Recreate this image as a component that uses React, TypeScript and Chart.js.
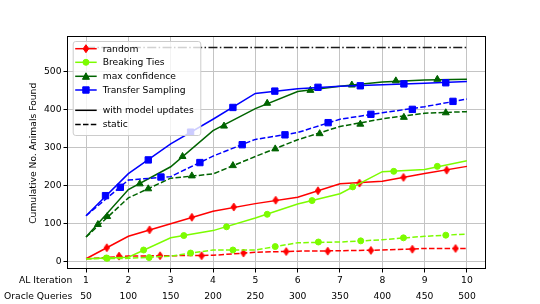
import React, { useEffect, useRef } from "react";
import { Chart, registerables } from "chart.js";

Chart.register(...registerables);

// ---------- data ----------
const iterations = [1, 2, 3, 4, 5, 6, 7, 8, 9, 10];
const queries = [50, 100, 150, 200, 250, 300, 350, 400, 450, 500];
const yTicks = [0, 100, 200, 300, 400, 500];
const totalAnimals = 564;

const randomModel = [8, 67, 100, 133, 153, 170, 205, 212, 232, 251];
const randomStatic = [8, 15, 16, 17, 25, 28, 29, 31, 35, 35];
const tiesModel = [8, 12, 63, 82, 115, 152, 179, 237, 243, 266];
const tiesStatic = [8, 9, 15, 31, 31, 50, 52, 58, 67, 73];
const maxConfModel = [65, 190, 250, 345, 403, 448, 462, 473, 478, 480];
const maxConfStatic = [65, 168, 220, 231, 277, 321, 356, 376, 391, 395];
const transferModel = [121, 232, 310, 375, 443, 455, 462, 466, 470, 474];
const transferStatic = [121, 215, 224, 278, 322, 340, 375, 392, 408, 428];

// marker positions (iteration) and values
const randomModelMkX = [1.49, 2.5, 3.5, 4.49, 5.48, 6.48, 7.46, 8.5, 9.52];
const randomModelMkY = [37, 84, 117, 144, 162, 187, 207, 222, 241];
const randomStaticMkX = [1.78, 2.75, 3.73, 4.72, 5.73, 6.71, 7.73, 8.71, 9.73];
const randomStaticMkY = [15, 16, 16, 23, 27, 28, 30, 33, 35];
const tiesModelMkX = [1.48, 2.36, 3.31, 4.32, 5.28, 6.34, 7.3, 8.27, 9.3];
const tiesModelMkY = [10, 31, 69, 92, 125, 161, 197, 238, 251];
const tiesStaticMkX = [1.5, 2.49, 3.47, 4.47, 5.47, 6.49, 7.49, 8.5, 9.5];
const tiesStaticMkY = [9, 11, 23, 31, 40, 52, 55, 63, 70];
const maxConfModelMkX = [1.28, 2.27, 3.28, 4.26, 5.28, 6.3, 7.28, 8.32, 9.3];
const maxConfModelMkY = [98, 205, 277, 357, 417, 451, 465, 476, 480];
const maxConfStaticMkX = [1.5, 2.47, 3.5, 4.47, 5.47, 6.52, 7.48, 8.51, 9.5];
const maxConfStaticMkY = [119, 192, 226, 253, 297, 337, 362, 380, 392];
const transferModelMkX = [1.46, 2.47, 3.47, 4.47, 5.46, 6.48, 7.48, 8.51, 9.5];
const transferModelMkY = [174, 268, 341, 406, 449, 459, 463, 468, 471];
const transferStaticMkX = [1.81, 2.77, 3.69, 4.69, 5.7, 6.72, 7.73, 8.71, 9.67];
const transferStaticMkY = [196, 223, 261, 308, 334, 366, 388, 401, 422];

const methodNames = ["random", "Breaking Ties", "max confidence", "Transfer Sampling"];
const styleNames = ["with model updates", "static"];

const RED = "#ff0000";
const LGREEN = "#7cfc00";
const DGREEN = "#006400";
const BLUE = "#0000ff";
const FONT = "DejaVu Sans";
const FS = 9.2;
const DASH = [5.5, 2.3];

function thinDiamond(color: string) {
  const c = document.createElement("canvas");
  c.width = 8;
  c.height = 10;
  const g = c.getContext("2d")!;
  g.fillStyle = color;
  g.strokeStyle = color;
  g.lineWidth = 0.8;
  g.beginPath();
  g.moveTo(4, 1);
  g.lineTo(6.8, 5);
  g.lineTo(4, 9);
  g.lineTo(1.2, 5);
  g.closePath();
  g.fill();
  g.stroke();
  return c;
}

function drawMarker(ctx: CanvasRenderingContext2D, kind: string, x: number, y: number, color: string) {
  ctx.save();
  ctx.fillStyle = color;
  ctx.strokeStyle = color;
  ctx.lineWidth = 1;
  ctx.setLineDash([]);
  ctx.beginPath();
  if (kind === "diamond") {
    ctx.moveTo(x, y - 4);
    ctx.lineTo(x + 2.8, y);
    ctx.lineTo(x, y + 4);
    ctx.lineTo(x - 2.8, y);
    ctx.closePath();
  } else if (kind === "circle") {
    ctx.arc(x, y, 3, 0, Math.PI * 2);
  } else if (kind === "triangle") {
    ctx.moveTo(x, y - 3.5);
    ctx.lineTo(x + 3.5, y + 3);
    ctx.lineTo(x - 3.5, y + 3);
    ctx.closePath();
  } else {
    ctx.rect(x - 3.2, y - 3.2, 6.4, 6.4);
  }
  ctx.fill();
  ctx.stroke();
  ctx.restore();
}

export default function App() {
  const ref = useRef<HTMLCanvasElement | null>(null);

  useEffect(() => {
    if (!ref.current) return;
    const diamond = thinDiamond(RED);

    const line = (vals: number[], color: string, dashed: boolean) => ({
      type: "line" as const,
      data: iterations.map((x, i) => ({ x, y: vals[i] })),
      borderColor: color,
      borderWidth: 1.5,
      borderDash: dashed ? DASH : [],
      pointRadius: 0,
      fill: false,
      tension: 0,
    });
    const marks = (xs: number[], ys: number[], color: string, style: any, radius: number) => ({
      type: "line" as const,
      data: xs.map((x, i) => ({ x, y: ys[i] })),
      showLine: false,
      pointStyle: style,
      pointRadius: radius,
      pointBackgroundColor: color,
      pointBorderColor: color,
      pointBorderWidth: 1,
      borderColor: color,
      backgroundColor: color,
    });

    const list: any[] = [
      line(randomModel, RED, false),
      marks(randomModelMkX, randomModelMkY, RED, diamond, 4),
      line(randomStatic, RED, true),
      marks(randomStaticMkX, randomStaticMkY, RED, diamond, 4),
      line(tiesModel, LGREEN, false),
      marks(tiesModelMkX, tiesModelMkY, LGREEN, "circle", 3),
      line(tiesStatic, LGREEN, true),
      marks(tiesStaticMkX, tiesStaticMkY, LGREEN, "circle", 3),
      line(maxConfModel, DGREEN, false),
      marks(maxConfModelMkX, maxConfModelMkY, DGREEN, "triangle", 4),
      line(maxConfStatic, DGREEN, true),
      marks(maxConfStaticMkX, maxConfStaticMkY, DGREEN, "triangle", 4),
      line(transferModel, BLUE, false),
      marks(transferModelMkX, transferModelMkY, BLUE, "rect", 4.5),
      line(transferStatic, BLUE, true),
      marks(transferStaticMkX, transferStaticMkY, BLUE, "rect", 4.5),
      {
        type: "line",
        data: [
          { x: iterations[0], y: totalAnimals },
          { x: iterations[iterations.length - 1], y: totalAnimals },
        ],
        borderColor: "#1a1a1a",
        borderWidth: 1.5,
        borderDash: [9, 2.4, 1.5, 2.4],
        pointRadius: 0,
        fill: false,
      },
    ];
    list.forEach((d, k) => (d.order = -k));

    const overlay = {
      id: "overlay",
      afterDatasetsDraw(chart: any) {
        const { ctx, chartArea } = chart;
        const { left, top, right, bottom } = chartArea;
        ctx.save();
        ctx.strokeStyle = "#000";
        ctx.lineWidth = 1;
        ctx.setLineDash([]);
        ctx.strokeRect(left + 0.5, top + 0.5, right - left - 1, bottom - top - 1);
        ctx.restore();
      },
      afterDraw(chart: any) {
        const { ctx, chartArea } = chart;
        const { left, top, bottom } = chartArea;
        ctx.save();
        ctx.fillStyle = "#000";
        ctx.font = `${FS}px '${FONT}'`;
        // axis row labels
        ctx.textAlign = "right";
        ctx.textBaseline = "middle";
        ctx.fillText("AL Iteration", left + 5.3, 280.3);
        ctx.fillText("Oracle Queries", left + 5.3, 296.7);
        // y axis title
        ctx.save();
        ctx.translate(34, (top + bottom) / 2 + 0.8);
        ctx.rotate(-Math.PI / 2);
        ctx.textAlign = "center";
        ctx.fillText("Cumulative No. Animals Found", 0, 0);
        ctx.restore();

        // legend
        const bx = left + 5.7;
        const by = top + 5;
        const bw = 127.6;
        const bh = 94;
        ctx.beginPath();
        (ctx as any).roundRect(bx + 0.5, by + 0.5, bw, bh, 2.5);
        ctx.fillStyle = "rgba(255,255,255,0.8)";
        ctx.fill();
        ctx.strokeStyle = "#cccccc";
        ctx.lineWidth = 1;
        ctx.stroke();

        const rows = [48.7, 62.3, 76.3, 90, 110.3, 124.5];
        const colors = [RED, LGREEN, DGREEN, BLUE];
        const kinds = ["diamond", "circle", "triangle", "square"];
        const hx0 = bx + 2.5;
        const hx1 = bx + 24;
        const tx = bx + 30;
        ctx.textAlign = "left";
        ctx.textBaseline = "middle";
        methodNames.forEach((name, i) => {
          const y = rows[i];
          ctx.strokeStyle = colors[i];
          ctx.lineWidth = 1.5;
          ctx.setLineDash([]);
          ctx.beginPath();
          ctx.moveTo(hx0, y);
          ctx.lineTo(hx1, y);
          ctx.stroke();
          drawMarker(ctx, kinds[i], (hx0 + hx1) / 2, y, colors[i]);
          ctx.fillStyle = "#000";
          ctx.fillText(name, tx, y + 0.5);
        });
        styleNames.forEach((name, j) => {
          const y = rows[4 + j];
          ctx.strokeStyle = "#000";
          ctx.lineWidth = 1.5;
          ctx.setLineDash(j === 0 ? [] : DASH);
          ctx.beginPath();
          ctx.moveTo(hx0, y);
          ctx.lineTo(hx1, y);
          ctx.stroke();
          ctx.setLineDash([]);
          ctx.fillStyle = "#000";
          ctx.fillText(name, tx, y + 0.5);
        });
        ctx.restore();
      },
    };

    const tickFont = { family: FONT, size: FS };
    const chart = new Chart(ref.current, {
      type: "line",
      data: { datasets: list },
      plugins: [overlay],
      options: {
        responsive: false,
        animation: false,
        devicePixelRatio: 1,
        layout: { padding: { left: 0, right: 54, top: 36, bottom: 0 } },
        plugins: { legend: { display: false }, tooltip: { enabled: false } },
        scales: {
          x: {
            type: "linear",
            position: "bottom",
            weight: 0,
            min: 0.55,
            max: 10.45,
            afterBuildTicks: (axis: any) => {
              axis.ticks = iterations.map((v) => ({ value: v }));
            },
            ticks: {
              font: tickFont,
              color: "#000",
              padding: 2.5,
              autoSkip: false,
              maxRotation: 0,
              callback: (v: any) => String(v),
            },
            grid: { color: "#c4c4c4", lineWidth: 1, tickLength: 3.5, tickColor: "#000", drawTicks: true },
            border: { display: false },
            afterFit: (s: any) => {
              s.height = 17;
            },
          },
          x2: {
            type: "linear",
            position: "bottom",
            weight: 1,
            min: 0.55,
            max: 10.45,
            afterBuildTicks: (axis: any) => {
              axis.ticks = iterations.map((v) => ({ value: v }));
            },
            ticks: {
              font: tickFont,
              color: "#000",
              padding: 5,
              autoSkip: false,
              maxRotation: 0,
              callback: (v: any) => {
                const i = iterations.indexOf(v);
                return i >= 0 ? String(queries[i]) : "";
              },
            },
            grid: { display: false, drawTicks: false },
            border: { display: false },
            afterFit: (s: any) => {
              s.height = 18;
            },
          },
          y: {
            type: "linear",
            min: -19,
            max: 594,
            afterBuildTicks: (axis: any) => {
              axis.ticks = yTicks.map((v) => ({ value: v }));
            },
            ticks: { font: tickFont, color: "#000", padding: 2 },
            grid: { color: "#c4c4c4", lineWidth: 1, tickLength: 3.5, tickColor: "#000", drawTicks: true },
            border: { display: false },
            afterFit: (s: any) => {
              s.width = 67;
            },
          },
        },
      } as any,
    });
    return () => chart.destroy();
  }, []);

  return (
    <div style={{ position: "absolute", left: 0, top: 0, width: 540, height: 304, background: "#fff" }}>
      <canvas ref={ref} width={540} height={304} style={{ display: "block", width: 540, height: 304 }} />
    </div>
  );
}
